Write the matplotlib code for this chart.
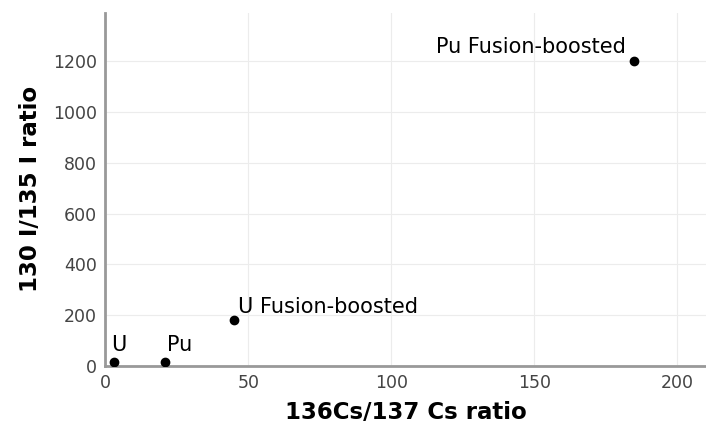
import matplotlib
matplotlib.use("Agg")
import matplotlib.pyplot as plt

# data
labels = ["U", "Pu", "U Fusion-boosted", "Pu Fusion-boosted"]
cs_ratio = [3, 21, 45, 185]
i_ratio = [15, 15, 180, 1200]

fig = plt.figure(figsize=(7.06, 4.29), dpi=100)
ax = fig.add_axes([0.149, 0.147, 0.851, 0.823])

ax.scatter(cs_ratio, i_ratio, s=36, color="black", zorder=3)

# label offsets in points
offsets = [(-2, 5), (1, 5), (3, 2), (-6, 3)]
aligns = ["left", "left", "left", "right"]
for lab, x, y, off, ha in zip(labels, cs_ratio, i_ratio, offsets, aligns):
    ax.annotate(lab, (x, y), xytext=off, textcoords="offset points",
                ha=ha, va="bottom", fontsize=15, color="black")

ax.set_xlim(0, 210)
ax.set_ylim(0, 1390)
ax.set_xticks([0, 50, 100, 150, 200])
ax.set_yticks([0, 200, 400, 600, 800, 1000, 1200])
ax.grid(True, color="#ececec", linewidth=0.8)
ax.set_axisbelow(True)

for s in ["top", "right"]:
    ax.spines[s].set_visible(False)
for s in ["left", "bottom"]:
    ax.spines[s].set_color("#999999")
    ax.spines[s].set_linewidth(2)

ax.tick_params(length=0, labelsize=12.5, colors="#444444", pad=6)
ax.set_xlabel("136Cs/137 Cs ratio", fontsize=16.5, fontweight="bold", labelpad=6)
ax.set_ylabel("130 I/135 I ratio", fontsize=16.5, fontweight="bold", labelpad=8)

fig.savefig("out.png", dpi=100)
